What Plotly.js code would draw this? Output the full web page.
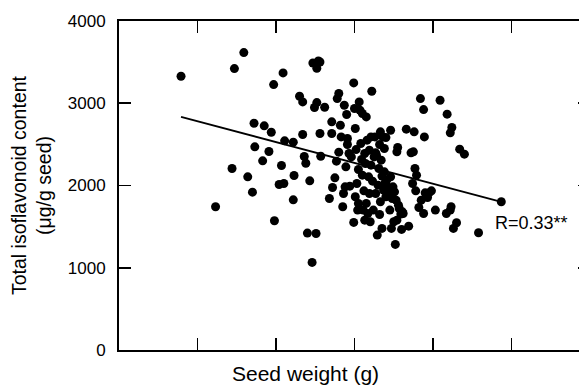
<!DOCTYPE html>
<html>
<head>
<meta charset="utf-8">
<script src="https://cdn.plot.ly/plotly-3.0.1.min.js"></script>
<style>
html,body{margin:0;padding:0;overflow:hidden;background:#fff;}
#chart{width:600px;height:387px;}
</style>
</head>
<body>
<div id="chart"></div>
<script>
// Seed weight (relative units; axis unlabeled) and total isoflavonoid content (µg/g seed)
const seedWeight = [
0.79,1.23,1.44,1.47,1.59,1.64,1.70,1.72,1.73,1.83,1.85,1.91,1.94,1.97,1.98,2.04,2.07,2.09,2.10,2.11,
2.22,2.22,2.23,2.30,2.34,2.34,2.36,2.38,2.40,2.43,2.46,2.47,2.49,2.51,2.52,2.52,2.54,2.56,2.56,2.57,
2.62,2.68,2.71,2.71,2.72,2.75,2.77,2.78,2.80,2.80,2.82,2.83,2.85,2.86,2.87,2.88,2.89,2.90,2.91,2.91,
2.93,2.94,2.96,2.99,2.99,3.00,3.01,3.01,3.03,3.04,3.05,3.05,3.06,3.07,3.08,3.09,3.10,3.10,3.11,3.12,
3.13,3.13,3.14,3.15,3.15,3.16,3.17,3.18,3.19,3.20,3.21,3.21,3.22,3.23,3.24,3.25,3.26,3.27,3.28,3.29,
3.30,3.31,3.32,3.32,3.33,3.33,3.34,3.35,3.35,3.36,3.37,3.38,3.39,3.40,3.40,3.41,3.42,3.43,3.45,3.46,
3.46,3.47,3.48,3.49,3.50,3.51,3.52,3.53,3.54,3.54,3.55,3.56,3.57,3.59,3.60,3.62,3.66,3.69,3.72,3.74,
3.75,3.76,3.77,3.78,3.79,3.82,3.84,3.85,3.88,3.88,3.89,3.90,3.93,3.95,3.98,4.03,4.09,4.17,4.18,4.22,
4.22,4.24,4.23,4.26,4.30,4.34,4.40,4.58,4.87,3.02,3.27,3.19,3.38,3.61
];
const isoflavonoid = [
3328,1741,2207,3421,3616,2105,1919,2757,2470,2300,2725,2413,2648,3227,1571,2012,2243,3369,2024,2543,
2527,1826,2122,3085,3016,2620,2352,2271,1421,2057,1065,3490,2948,1417,3008,3425,3515,3502,2632,2356,
2952,1842,2774,2632,1976,2093,2296,3057,3118,2405,2733,2591,1741,1903,2976,1984,2227,2863,2571,2498,
2389,1992,2348,1551,3247,2936,1863,2693,2024,1701,1782,2195,3016,2915,2510,2316,2875,2126,1701,1935,
2389,1579,2267,2834,1782,2551,1660,2105,2429,1559,2247,2591,3146,2053,1701,2348,2591,1903,2368,1397,
2004,2207,2498,1648,2652,1802,2308,1478,2114,2591,1944,2166,2033,2583,1863,2065,1984,1923,1701,2672,
2105,1478,1842,1984,1559,1923,1284,1822,2409,1579,2462,1761,1721,1652,1466,1660,2685,1506,2397,2024,
2409,2652,2207,1935,2126,1733,3057,1822,1660,2923,2591,1911,1854,1911,1935,1701,3037,1660,2867,1701,
2640,2705,1741,1478,1547,2442,2381,1425,1802,2437,2397,1903,2450,1680
];
// Regression line endpoints
const fitX = [0.79, 4.87];
const fitY = [2834, 1802];
const yTicks = [0, 1000, 2000, 3000, 4000];
const xTicks = [1, 2, 3, 4, 5];
const corrLabel = "R=0.33**";

const font = "Liberation Sans, Arial, sans-serif";

const traces = [
  {x: fitX, y: fitY, type: "scatter", mode: "lines",
   line: {color: "#000", width: 1.8}, hoverinfo: "skip"},
  {x: seedWeight, y: isoflavonoid, type: "scatter", mode: "markers",
   marker: {color: "#000", size: 9}}
];

const layout = {
  width: 600, height: 387,
  margin: {l: 119, r: 10, t: 21, b: 37},
  paper_bgcolor: "#fff", plot_bgcolor: "#fff",
  showlegend: false,
  font: {family: font, color: "#000", size: 17},
  xaxis: {
    range: [0, 6], tickvals: xTicks, showticklabels: false,
    ticks: "inside", ticklen: 12, tickwidth: 1.8, tickcolor: "#000",
    showline: true, linecolor: "#000", linewidth: 2, mirror: "ticks",
    showgrid: false, zeroline: false, fixedrange: true
  },
  yaxis: {
    range: [0, 4000], tickvals: yTicks, ticktext: yTicks.map(String),
    ticks: "inside", ticklen: 12, tickwidth: 1.8, tickcolor: "#000",
    showline: true, linecolor: "#000", linewidth: 2, mirror: "ticks",
    showgrid: false, zeroline: false, fixedrange: true,
    ticklabelstandoff: 8,
    tickfont: {family: font, size: 17, color: "#000"},
    title: {text: "Total isoflavonoid content<br>(μg/g seed)",
            font: {family: font, size: 19.5, color: "#000"}, standoff: 11}
  },
  annotations: [
    {text: "Seed weight (g)", xref: "paper", yref: "paper",
     x: 0.397, y: -0.072, xanchor: "center", yanchor: "middle",
     showarrow: false, font: {family: font, size: 21, color: "#000"}},
    {text: corrLabel, xref: "x", yref: "y", x: 4.76, y: 1540,
     xanchor: "left", yanchor: "middle", showarrow: false,
     font: {family: font, size: 18, color: "#000"}}
  ]
};

Plotly.newPlot("chart", traces, layout, {displayModeBar: false, staticPlot: true});
</script>
</body>
</html>
